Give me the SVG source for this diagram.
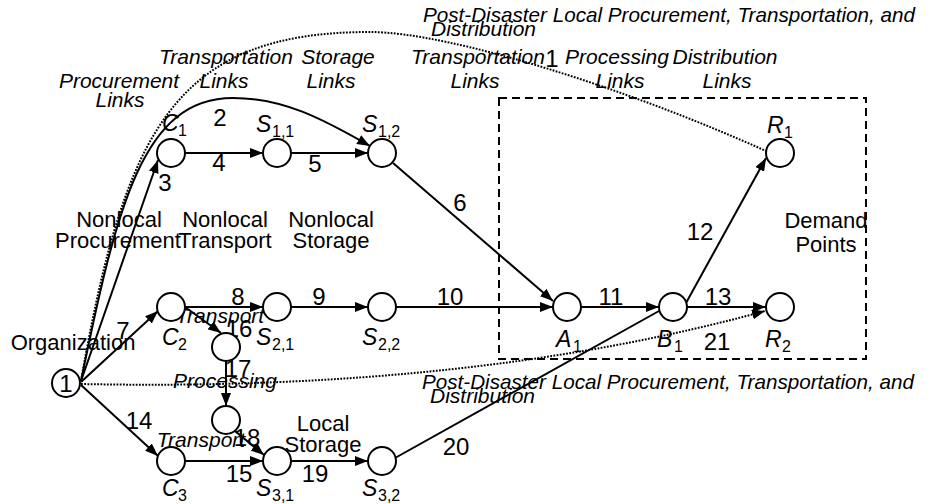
<svg xmlns="http://www.w3.org/2000/svg" width="937" height="504" viewBox="0 0 937 504">
<defs>
<marker id="arr" viewBox="0 0 13 10" refX="13" refY="5" markerWidth="13" markerHeight="10" markerUnits="userSpaceOnUse" orient="auto">
<path d="M0,0 L13,5 L0,10 z" fill="#000"/>
</marker>
<style>
.e{fill:none;stroke:#000;stroke-width:2}
.a{marker-end:url(#arr)}
.d{stroke-dasharray:1.8 1.4}
.n circle{fill:#fff;stroke:#000;stroke-width:2}
text{font-family:"Liberation Sans",Arial,sans-serif;fill:#000}
.m{font-size:23px;font-style:italic}
.sb{font-size:16px}
.num{font-size:24px;text-anchor:middle}
.t{font-size:22px;text-anchor:middle}
.i{font-size:21px;font-style:italic;text-anchor:middle}
.il{font-size:21px;font-style:italic}
.box{fill:none;stroke:#000;stroke-width:2;stroke-dasharray:8 5}
</style>
</defs>
<rect class="box" x="499" y="98" width="367" height="261"/>
<g id="connectors">
<path id="e1" class="e d" d="M81,381 C125,130 175,32 370,32 C450,32 629.5,89.5 766,151"/>
<path id="e2" class="e a" d="M81,381 C117,205 143,98 233,98 C283,98 322,118.5 370,146"/>
<path id="e3" class="e a" d="M81,381 L158,160"/>
<path id="e4" class="e a" d="M185,153 L263,153"/>
<path id="e5" class="e a" d="M291,153 L368,153"/>
<path id="e6" class="e a" d="M393,163 L553,301"/>
<path id="e7" class="e a" d="M81,382 L158,311"/>
<path id="e8" class="e a" d="M185,307 L263,307"/>
<path id="e9" class="e a" d="M291,307 L368,307"/>
<path id="e10" class="e a" d="M396,307 L553,307"/>
<path id="e11" class="e a" d="M581,307 L659,307"/>
<path id="e12" class="e a" d="M686,303 L766,158"/>
<path id="e13" class="e a" d="M687,307 L766,307"/>
<path id="e14" class="e a" d="M81,385 L158,456"/>
<path id="e15" class="e a" d="M185,461 L263,461"/>
<path id="e16" class="e a" d="M185,307 L221,333"/>
<path id="e17" class="e a" d="M226,361 L226,406"/>
<path id="e18" class="e a" d="M235,431 L264,455"/>
<path id="e19" class="e a" d="M291,461 L368,461"/>
<path id="e20" class="e" d="M395,458 L659,311"/>
<path id="e21" class="e d a" d="M81,384 Q470,392 765,311"/>
</g>
<g id="edge-labels">
<text class="num" x="552" y="67">1</text>
<text class="num" x="220" y="126">2</text>
<text class="num" x="165" y="191">3</text>
<text class="num" x="219" y="171">4</text>
<text class="num" x="315" y="172">5</text>
<text class="num" x="460" y="211">6</text>
<text class="num" x="123" y="339">7</text>
<text class="num" x="238" y="305">8</text>
<text class="num" x="319" y="305">9</text>
<text class="num" x="450" y="305">10</text>
<text class="num" x="611" y="305">11</text>
<text class="num" x="700" y="240">12</text>
<text class="num" x="718" y="305">13</text>
<text class="num" x="139" y="429">14</text>
<text class="num" x="239" y="482">15</text>
<text class="num" x="239" y="337">16</text>
<text class="num" x="238" y="377">17</text>
<text class="num" x="247" y="446">18</text>
<text class="num" x="315" y="482">19</text>
<text class="num" x="456" y="455">20</text>
<text class="num" x="717" y="350">21</text>
</g>
<g id="annotations">
<text class="il" x="423" y="22" textLength="492" lengthAdjust="spacingAndGlyphs">Post-Disaster Local Procurement, Transportation, and</text>
<text class="il" x="431" y="36">Distribution</text>
<text class="i" x="119" y="88">Procurement</text>
<text class="i" x="120" y="107">Links</text>
<text class="i" x="226" y="64">Transportation</text>
<text class="i" x="224" y="88">Links</text>
<text class="i" x="338" y="64">Storage</text>
<text class="i" x="331" y="88">Links</text>
<text class="i" x="478" y="64">Transportation</text>
<text class="i" x="475" y="88">Links</text>
<text class="i" x="617" y="64">Processing</text>
<text class="i" x="620" y="88">Links</text>
<text class="i" x="725" y="64">Distribution</text>
<text class="i" x="727" y="88">Links</text>
<text class="t" x="119" y="227">Nonlocal</text>
<text class="t" x="118" y="248">Procurement</text>
<text class="t" x="225" y="227">Nonlocal</text>
<text class="t" x="225" y="248">Transport</text>
<text class="t" x="331" y="227">Nonlocal</text>
<text class="t" x="331" y="248">Storage</text>
<text class="t" x="826" y="228">Demand</text>
<text class="t" x="826" y="252">Points</text>
<text class="t" x="73" y="350">Organization</text>
<text class="i" x="220" y="323">Transport</text>
<text class="i" x="225" y="388">Processing</text>
<text class="i" x="201" y="447">Transport</text>
<text class="t" x="323" y="431">Local</text>
<text class="t" x="323" y="452">Storage</text>
<text class="il" x="422" y="389" textLength="492" lengthAdjust="spacingAndGlyphs">Post-Disaster Local Procurement, Transportation, and</text>
<text class="il" x="430" y="403">Distribution</text>
</g>
<g id="n-org" class="n"><circle cx="66" cy="383" r="14"/><text class="num" x="66" y="392">1</text></g>
<g id="n-C1" class="n"><circle cx="171" cy="153" r="14"/><text class="m" x="162" y="131">C</text><text class="sb" x="178" y="136">1</text></g>
<g id="n-S11" class="n"><circle cx="277" cy="153" r="14"/><text class="m" x="256" y="132">S</text><text class="sb" x="272" y="137">1,1</text></g>
<g id="n-S12" class="n"><circle cx="382" cy="153" r="14"/><text class="m" x="362" y="132">S</text><text class="sb" x="378" y="137">1,2</text></g>
<g id="n-C2" class="n"><circle cx="171" cy="307" r="14"/><text class="m" x="162" y="345">C</text><text class="sb" x="178" y="350">2</text></g>
<g id="n-S21" class="n"><circle cx="277" cy="307" r="14"/><text class="m" x="256" y="345">S</text><text class="sb" x="272" y="350">2,1</text></g>
<g id="n-S22" class="n"><circle cx="382" cy="307" r="14"/><text class="m" x="362" y="345">S</text><text class="sb" x="378" y="350">2,2</text></g>
<g id="n-P1" class="n"><circle cx="226" cy="347" r="14"/></g>
<g id="n-P2" class="n"><circle cx="226" cy="420" r="14"/></g>
<g id="n-C3" class="n"><circle cx="171" cy="461" r="14"/><text class="m" x="162" y="496">C</text><text class="sb" x="178" y="501">3</text></g>
<g id="n-S31" class="n"><circle cx="277" cy="461" r="14"/><text class="m" x="256" y="496">S</text><text class="sb" x="272" y="501">3,1</text></g>
<g id="n-S32" class="n"><circle cx="382" cy="461" r="14"/><text class="m" x="362" y="496">S</text><text class="sb" x="378" y="501">3,2</text></g>
<g id="n-A1" class="n"><circle cx="567" cy="307" r="14"/><text class="m" x="556" y="347">A</text><text class="sb" x="573" y="352">1</text></g>
<g id="n-B1" class="n"><circle cx="673" cy="307" r="14"/><text class="m" x="657" y="347">B</text><text class="sb" x="674" y="352">1</text></g>
<g id="n-R2" class="n"><circle cx="780" cy="307" r="14"/><text class="m" x="765" y="347">R</text><text class="sb" x="782" y="352">2</text></g>
<g id="n-R1" class="n"><circle cx="780" cy="153" r="14"/><text class="m" x="767" y="133">R</text><text class="sb" x="784" y="138">1</text></g>
</svg>
